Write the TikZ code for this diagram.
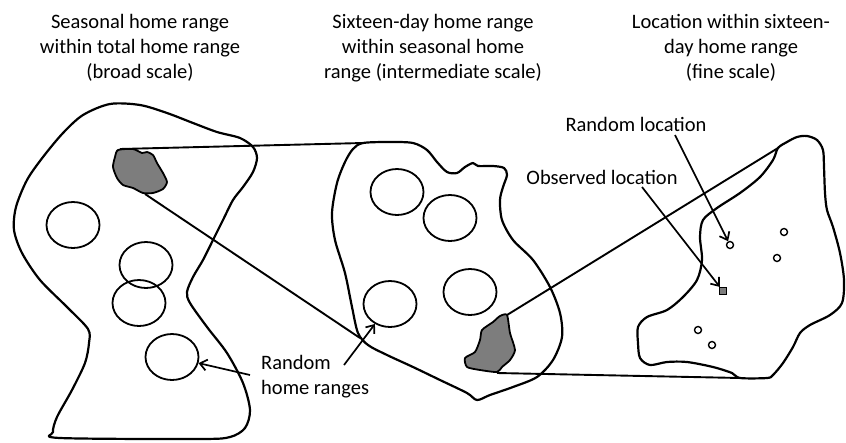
\documentclass[tikz,border=0pt]{standalone}
\usepackage{fontspec}
\setmainfont{Carlito}
\usepackage{xcolor}
\usepackage{tikz}
\usetikzlibrary{shapes.geometric,arrows.meta}

\definecolor{patchgrey}{RGB}{125,125,125}

\tikzset{
  rangeline/.style={line width=2.2pt, line join=round},
  greypatch/.style={line width=1.8pt, line join=round, fill=patchgrey},
  zoomline/.style={line width=1.9pt},
  hrange/.style={ellipse, draw, line width=1.8pt, minimum width=53pt, minimum height=46pt, inner sep=0pt},
  loc/.style={circle, draw, line width=1.4pt, minimum size=7pt, inner sep=0pt},
  pointer/.style={line width=1.7pt, -{Straight Barb[length=7pt,width=11pt]}},
  caption/.style={font=\fontsize{20.5}{25}\selectfont, align=center, inner sep=0pt}
}

\begin{document}
\begin{tikzpicture}[x=1pt,y=-1pt]
\useasboundingbox (0,0) rectangle (846,442);

%draw titles
\node[caption] (ttlbroad) at (140,48) {Seasonal home range\\within total home range\\(broad scale)};
\node[caption] (ttlmid) at (433,48) {Sixteen-day home range\\within seasonal home\\range (intermediate scale)};
\node[caption] (ttlfine) at (731,48) {Location within sixteen-\\day home range\\(fine scale)};

%draw total home range
\draw[rangeline] plot[smooth cycle, tension=0.5] coordinates {
  (110,104) (140,105) (167,113) (193,123) (217,132) (240,138) (253,147)
  (257,158) (253,172) (243,187) (233,200) (223,220) (213,240) (203,260)
  (193,277) (187,292) (190,303) (207,327) (227,353) (243,383) (250,410)
  (245,428) (230,437) (200,439) (60,438) (53,432) (57,417) (72,390)
  (85,363) (89,343) (88,329) (67,307) (40,280) (22,253) (14,230)
  (16,207) (27,180) (43,157) (63,133) (83,115)};

%draw seasonal home range
\draw[rangeline] plot[smooth cycle, tension=0.5] coordinates {
  (363,143) (390,142) (413,143) (427,150) (437,162) (447,172) (457,173)
  (465,167) (473,163) (478,166) (493,166) (504,168) (507,175) (503,187)
  (500,200) (502,220) (513,240) (533,260) (550,287) (560,313) (562,337)
  (553,360) (537,377) (513,387) (490,395) (477,400) (467,393) (440,380)
  (413,367) (387,355) (368,345) (358,333) (352,307) (345,273) (335,240)
  (332,213) (337,183) (345,162) (353,149)};

%draw sixteen-day home range
\draw[rangeline] plot[smooth cycle, tension=0.5] coordinates {
  (778,148) (787,142) (797,137) (807,136) (817,140) (823,150) (824,167)
  (825,193) (827,210) (833,227) (840,253) (844,280) (842,303) (830,315)
  (810,325) (800,333) (793,347) (783,363) (773,375) (767,378) (740,378)
  (732,373) (713,367) (687,362) (667,362) (650,365) (640,358) (638,343)
  (638,327) (647,317) (667,310) (683,297) (697,280) (702,260) (700,237)
  (703,220) (717,208) (740,193) (760,177) (773,160)};

%draw grey patches
\draw[greypatch] plot[smooth cycle, tension=0.4] coordinates {
  (118,150) (133,149) (142,153) (147,152) (153,155) (157,163) (163,173)
  (167,182) (163,189) (153,193) (143,193) (133,188) (123,185) (117,178)
  (113,167) (115,157)};
\draw[greypatch] plot[smooth cycle, tension=0.4] coordinates {
  (507,315) (510,333) (515,350) (510,360) (502,367) (497,372) (480,370)
  (467,367) (465,358) (475,352) (480,340) (482,330) (493,322) (500,316)};

%zoom lines
\coordinate (bpatchtop) at (120,149);
\coordinate (bpatchlow) at (145,194);
\coordinate (mrangetop) at (363,143);
\coordinate (mrangelow) at (360,338);
\coordinate (mpatchtop) at (507,315);
\coordinate (mpatchlow) at (497,373);
\coordinate (frangetop) at (778,148);
\coordinate (frangelow) at (740,378);
\draw[zoomline] (bpatchtop) -- (mrangetop);
\draw[zoomline] (bpatchlow) -- (mrangelow);
\draw[zoomline] (mpatchtop) -- (frangetop);
\draw[zoomline] (mpatchlow) -- (frangelow);

%draw random home ranges
\foreach \n/\x/\y in {1/73/225, 2/146/265, 3/139/303, 4/172/357}{
   \node[hrange] (hrb\n) at (\x,\y) {};
}
\foreach \n/\x/\y in {1/397/192, 2/450/218, 3/390/304, 4/470/292}{
   \node[hrange] (hrm\n) at (\x,\y) {};
}

%draw locations
\foreach \n/\x/\y in {1/730/245, 2/784/232, 3/777/258, 4/698/330, 5/712/345}{
   \node[loc] (rl\n) at (\x,\y) {};
}
\node[draw, line width=1.2pt, fill=patchgrey, minimum size=7pt, inner sep=0pt] (obsloc) at (723,291) {};

%draw labels and arrows
\node[caption, anchor=north west, align=left] (lblhome) at (261,355) {Random\\home ranges};
\node[caption] (lblrand) at (636,124) {Random location};
\node[caption] (lblobs) at (602,177) {Observed location};
\coordinate (homeA) at (250,375);
\coordinate (homeB) at (344,365);
\coordinate (randA) at (675,135);
\coordinate (obsA) at (642,187);
\draw[pointer] (homeA) -- (hrb4);
\draw[pointer] (homeB) -- (hrm3);
\draw[pointer] (randA) -- (rl1);
\draw[pointer] (obsA) -- (obsloc);
\end{tikzpicture}
\end{document}
